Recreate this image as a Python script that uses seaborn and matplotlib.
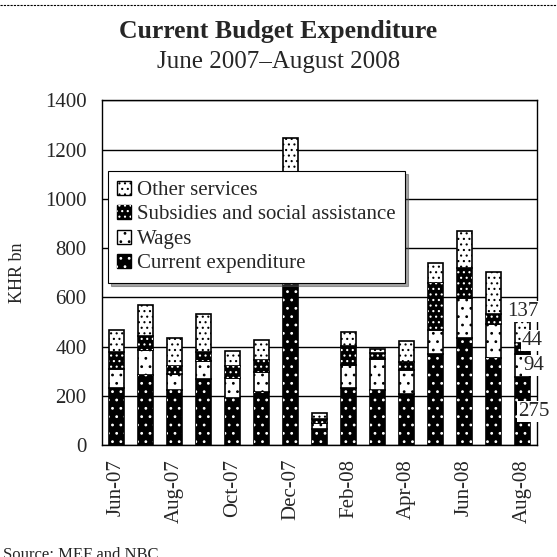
import numpy as np
import matplotlib
matplotlib.use("Agg")
import matplotlib.pyplot as plt
import seaborn as sns
from matplotlib.patches import Patch
from matplotlib.lines import Line2D

# data (KHR bn)
months = ['Jun-07', 'Jul-07', 'Aug-07', 'Sep-07', 'Oct-07', 'Nov-07', 'Dec-07', 'Jan-08',
          'Feb-08', 'Mar-08', 'Apr-08', 'May-08', 'Jun-08', 'Jul-08', 'Aug-08']
current_exp = [231, 283, 222, 269, 192, 215, 900, 66, 230, 222, 208, 368, 435, 352, 275]
wages = [77, 102, 65, 71, 80, 80, 55, 22, 95, 126, 95, 100, 163, 140, 94]
subsidies = [68, 59, 35, 39, 50, 49, 95, 16, 78, 24, 35, 189, 122, 41, 44]
other_services = [91, 123, 114, 155, 61, 83, 195, 27, 56, 16, 83, 84, 151, 169, 137]

sns.set_style("white")
plt.rcParams['font.family'] = ['Liberation Serif', 'DejaVu Serif']
plt.rcParams['hatch.linewidth'] = 0.8

fig = plt.figure(figsize=(5.57, 5.57), dpi=100)
ax = fig.add_axes([0.183, 0.201, 0.781, 0.619])

# name, values, face, dot colour, hatch
layers = [
    ('Current expenditure', current_exp, 'black', 'white', '..'),
    ('Wages', wages, 'white', 'black', '..'),
    ('Subsidies and social assistance', subsidies, 'black', 'white', '...'),
    ('Other services', other_services, 'white', 'black', '...'),
]

bottom = np.zeros(len(months))
handles = []
for name, vals, face, dots, hatch in layers:
    vals = np.array(vals, dtype=float)
    # base bar with black outline
    sns.barplot(x=months, y=vals, bottom=bottom, color=face, edgecolor='black',
                linewidth=1.2, width=0.52, saturation=1, errorbar=None, ax=ax, zorder=2)
    # dot pattern on top
    sns.barplot(x=months, y=vals, bottom=bottom, fill=False, color=dots,
                linewidth=0, hatch=hatch, width=0.52, errorbar=None, ax=ax, zorder=3)
    handles.append((Patch(facecolor=face, edgecolor='black', linewidth=1.0),
                    Patch(facecolor='none', edgecolor=dots, hatch=hatch, linewidth=0)))
    bottom = bottom + vals

ax.set_xlim(-0.5, 14.5)
ax.set_ylim(0, 1400)
ax.set_yticks(np.arange(0, 1401, 200))
ax.yaxis.grid(True, color='black', linewidth=1.0)
ax.set_axisbelow(True)
for sp in ax.spines.values():
    sp.set_visible(True)
    sp.set_color('black')
    sp.set_linewidth(1.0)

# every second month labelled, tick marks on category boundaries
ax.set_xticks(np.arange(-0.5, 14, 2), minor=True)
ax.set_xticks(np.arange(0, len(months), 2))
ax.set_xticklabels(months[::2], rotation=90, fontsize=15)
ax.tick_params(axis='x', which='major', length=0, pad=10)
ax.tick_params(axis='x', which='minor', length=5, width=1, direction='out', color='black')
ax.tick_params(axis='y', length=5, width=1, direction='out', color='black', labelsize=15, pad=6)
ax.set_xlabel('')
ax.set_ylabel('KHR bn', fontsize=13, labelpad=14)

leg = ax.legend(handles[::-1], [l[0] for l in layers][::-1], loc='upper left',
                bbox_to_anchor=(0.014, 0.794), borderaxespad=0, fontsize=15,
                frameon=True, fancybox=False, shadow=True, edgecolor='black',
                framealpha=1, handlelength=0.65, handleheight=0.65, handletextpad=0.3,
                labelspacing=0.25, borderpad=0.45)
leg.get_frame().set_linewidth(0.8)
leg.set_zorder(10)

# data labels for the last month
last = len(months) - 1
base = 0.0
nudge = [(8, 0), (8, 0), (7, 6), (0, 11)]
for (name, vals, face, dots, hatch), (dx, dy) in zip(layers, nudge):
    v = vals[last]
    ax.annotate(str(v), xy=(last, base + v / 2), xytext=(dx, dy), textcoords='offset points',
                ha='center', va='center', fontsize=15, zorder=12, annotation_clip=False,
                bbox=dict(boxstyle='square,pad=0.05', facecolor='white', edgecolor='none'))
    base += v

fig.text(0.5, 0.932, 'Current Budget Expenditure', ha='center', fontsize=18.5, fontweight='bold')
fig.text(0.5, 0.878, 'June 2007\u2013August 2008', ha='center', fontsize=18)
fig.text(0.005, -0.004, 'Source: MEF and NBC', ha='left', fontsize=12)
fig.add_artist(Line2D([0, 1], [0.991, 0.991], transform=fig.transFigure, color='black',
                      linewidth=0.8, linestyle=(0, (2, 1))))

fig.savefig('out.png', dpi=100)
